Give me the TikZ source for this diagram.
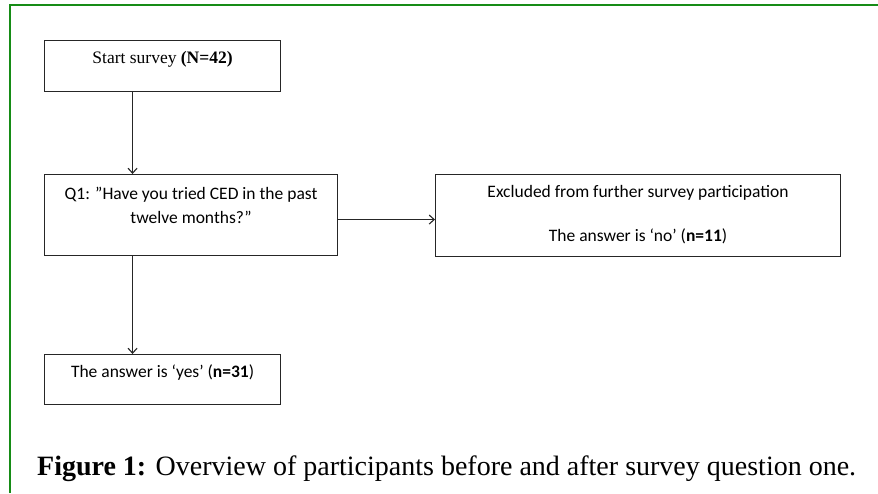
\documentclass[tikz,border=0pt]{standalone}
\usepackage{fontspec}
\setmainfont{Carlito}
\newfontfamily\capserif{Liberation Serif}
\usetikzlibrary{arrows.meta}

\definecolor{framegreen}{RGB}{22,140,22}

\begin{document}
\begin{tikzpicture}[x=1pt, y=-1pt,
    box/.style = {draw=black!85, line width=1.1pt, align=center, inner sep=0pt, anchor=north west,
                  font=\fontsize{17.5}{24}\selectfont},
    flow/.style = {draw=black!85, line width=1.1pt, -{Straight Barb[length=5pt, width=9pt]}}]
    \useasboundingbox (0,0) rectangle (878,493);
    \draw[framegreen, line width=2.6pt] (10,493) -- (10,5) -- (878,5);

    \node[box, minimum width=236pt, text height=23pt, text depth=28pt] (S) at (44,40)
        {{\capserif Start survey \textbf{(N=42)}}};
    \node[box, minimum width=293pt, text height=49pt, text depth=32pt] (Q) at (44,174)
        {Q1: ''Have you tried CED in the past\\twelve months?''};
    \node[box, minimum width=405pt, text height=67pt, text depth=15pt] (E) at (435,174)
        {Excluded from further survey participation\\[20pt]The answer is ‘no’ (\textbf{n=11})};
    \node[box, minimum width=236pt, text height=23pt, text depth=27pt] (Y) at (44,354)
        {The answer is ‘yes’ (\textbf{n=31})};

    \node[anchor=base west, inner sep=0pt, font=\capserif\fontsize{28}{32}\selectfont] (C) at (37,475)
        {\textbf{Figure 1:} Overview of participants before and after survey question one.};

    \path[flow] ([xshift=-30pt]S.south) -- ([xshift=-58.5pt]Q.north);
    \path[flow] ([yshift=-4.5pt]Q.east) -- ([yshift=-4pt]E.west);
    \path[flow] ([xshift=-58.5pt]Q.south) -- ([xshift=-30pt]Y.north);
\end{tikzpicture}
\end{document}
